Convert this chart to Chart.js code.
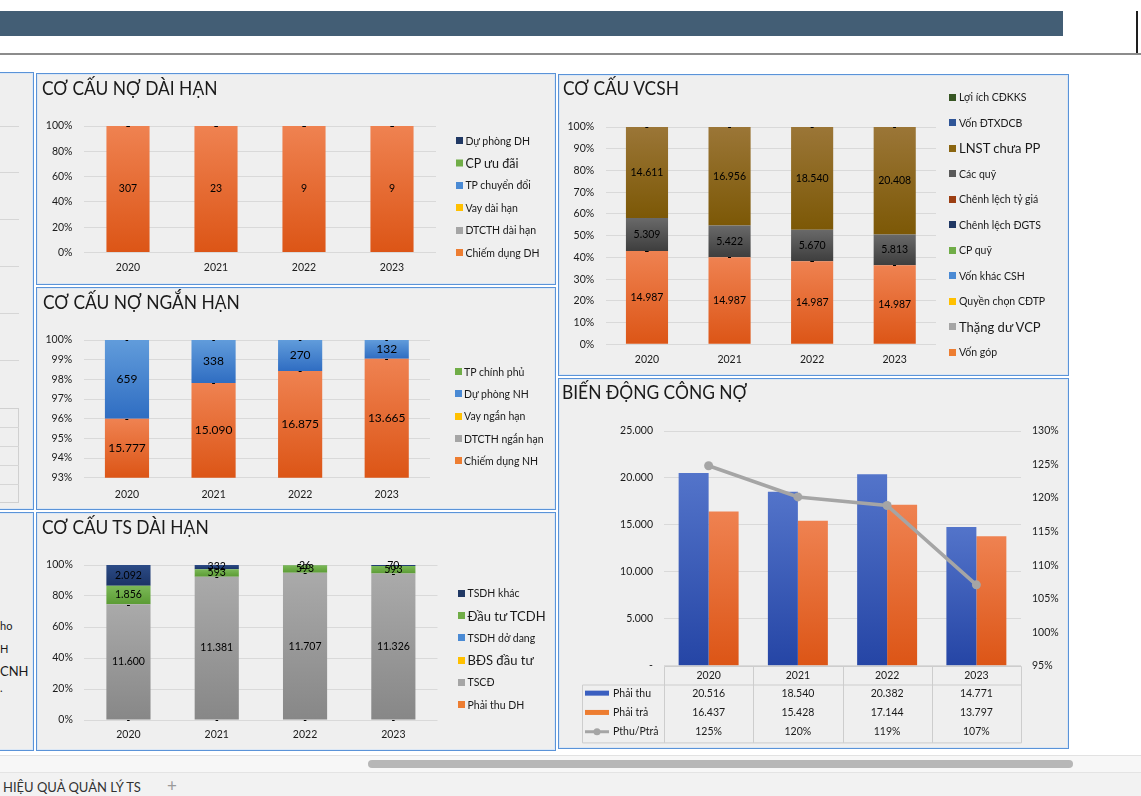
<!DOCTYPE html>
<html lang="vi">
<head>
<meta charset="utf-8">
<title>Cơ cấu nguồn vốn</title>
<script src="https://cdn.jsdelivr.net/npm/chart.js@4.4.1/dist/chart.umd.min.js"></script>
<style>
  html, body { margin: 0; padding: 0; }
  body { width: 1141px; height: 796px; position: relative; overflow: hidden; background: #fff; font-family: Lato, "Open Sans", sans-serif; color: #1a1a1a; }
  .abs { position: absolute; }
  .panel { position: absolute; box-sizing: border-box; background: #efefef; border: 1px solid #5a93d8; box-shadow: inset 0 0 0 1px #dbe7f5; }
  .title { position: absolute; font-size: 18.5px; line-height: 19px; white-space: nowrap; color: #1a1a1a; z-index: 2; transform: scaleX(0.94); transform-origin: 0 0; }
  canvas { position: absolute; z-index: 1; }
  .legend { position: absolute; z-index: 2; }
  .legend .item { position: absolute; left: 0; white-space: nowrap; display: flex; align-items: center; transform: translateY(-50%); color: #1a1a1a; }
  .legend .sw { display: inline-block; width: 7px; height: 7px; flex: none; }
  .hl { position: absolute; height: 1px; background: #d6d6d6; }
  .frag { position: absolute; left: 0; font-size: 11px; line-height: 12px; white-space: nowrap; }
</style>
</head>
<body>

<!-- sheet header -->
<div class="abs" style="left:0;top:11px;width:1063px;height:25px;background:#435e75"></div>
<div class="abs" style="left:1136px;top:11px;width:2px;height:44px;background:#1e1e1e"></div>
<div class="abs" style="left:0;top:53px;width:1141px;height:2px;background:#8c8c8c"></div>

<!-- partial panels on the left edge -->
<div class="panel" style="left:-2px;top:72px;width:36px;height:438px"></div>
<div class="panel" style="left:-2px;top:512px;width:36px;height:239px"></div>
<div class="hl" style="left:0;top:126px;width:19px"></div>
<div class="hl" style="left:0;top:172px;width:19px"></div>
<div class="hl" style="left:0;top:219px;width:19px"></div>
<div class="hl" style="left:0;top:266px;width:19px"></div>
<div class="hl" style="left:0;top:313px;width:19px"></div>
<div class="hl" style="left:0;top:360px;width:19px"></div>
<div class="abs" style="left:-1px;top:408px;width:20px;height:95px;border:1px solid #d0d0d0;box-sizing:border-box"></div>
<div class="hl" style="left:0;top:427px;width:19px"></div>
<div class="hl" style="left:0;top:446px;width:19px"></div>
<div class="hl" style="left:0;top:465px;width:19px"></div>
<div class="hl" style="left:0;top:484px;width:19px"></div>
<div class="frag" style="top:620px">ho</div>
<div class="frag" style="top:643px">H</div>
<div class="frag" style="top:664px;font-size:13px;line-height:14px">CNH</div>
<div class="frag" style="top:682px">.</div>

<!-- chart panels -->
<div class="panel" style="left:36px;top:73px;width:520px;height:212px"></div>
<div class="panel" style="left:36px;top:287px;width:520px;height:223px"></div>
<div class="panel" style="left:36px;top:512px;width:520px;height:239px"></div>
<div class="panel" style="left:558px;top:74px;width:511px;height:302px"></div>
<div class="panel" style="left:558px;top:378px;width:511px;height:371px"></div>

<div class="title" style="left:42px;top:79px">CƠ CẤU NỢ DÀI HẠN</div>
<div class="title" style="left:43px;top:293px">CƠ CẤU NỢ NGẮN HẠN</div>
<div class="title" style="left:42px;top:518px">CƠ CẤU TS DÀI HẠN</div>
<div class="title" style="left:563px;top:79px">CƠ CẤU VCSH</div>
<div class="title" style="left:562px;top:383px">BIẾN ĐỘNG CÔNG NỢ</div>

<!-- bottom: scroll bar + sheet tab -->
<div class="abs" style="left:0;top:755px;width:1141px;height:1px;background:#e2e2e2"></div>
<div class="abs" style="left:0;top:756px;width:1141px;height:16px;background:#f7f7f7"></div>
<div class="abs" style="left:368px;top:760px;width:705px;height:8px;border-radius:4px;background:#b7b7b7"></div>
<div class="abs" style="left:0;top:772px;width:1141px;height:24px;background:#f2f2f2;border-top:1px solid #e4e4e4"></div>
<div class="abs" style="left:3px;top:779px;font-size:13px;line-height:16px;color:#333;white-space:nowrap">HIỆU QUẢ QUẢN LÝ TS</div>
<div class="abs" style="left:167px;top:776px;font-size:17px;line-height:20px;color:#9a9a9a">+</div>

<script>
const years = ['2020', '2021', '2022', '2023'];

// Cơ cấu nợ dài hạn (stack order: bottom -> top)
const chiemDungDH = [307, 23, 9, 9];
const dtcthDH = [0, 0, 0, 0];
const vayDH = [0, 0, 0, 0];
const tpChuyenDoi = [0, 0, 0, 0];
const cpUuDai = [0, 0, 0, 0];
const duPhongDH = [0, 0, 0, 0];

// Cơ cấu nợ ngắn hạn
const chiemDungNH = [15777, 15090, 16875, 13665];
const dtcthNH = [0, 0, 0, 0];
const vayNH = [0, 0, 0, 0];
const duPhongNH = [659, 338, 270, 132];
const tpChinhPhu = [0, 0, 0, 0];

// Cơ cấu TS dài hạn
const phaiThuDH = [0, 0, 0, 0];
const tscd = [11600, 11381, 11707, 11326];
const bdsDauTu = [0, 0, 0, 0];
const tsdhDoDang = [0, 0, 0, 0];
const dauTuTCDH = [1856, 593, 593, 593];
const tsdhKhac = [2092, 332, 26, 70];

// Cơ cấu VCSH
const vonGop = [14987, 14987, 14987, 14987];
const thangDuVCP = [0, 0, 0, 0];
const quyenChonCDTP = [0, 0, 0, 0];
const vonKhacCSH = [0, 0, 0, 0];
const cpQuy = [0, 0, 0, 0];
const clDGTS = [0, 0, 0, 0];
const clTyGia = [0, 0, 0, 0];
const cacQuy = [5309, 5422, 5670, 5813];
const lnstChuaPP = [14611, 16956, 18540, 20408];
const vonDTXDCB = [0, 0, 0, 0];
const loiIchCDKKS = [0, 0, 0, 0];

// Biến động công nợ
const phaiThu = [20516, 18540, 20382, 14771];
const phaiTra = [16437, 15428, 17144, 13797];

// fills: solid (legend), gradient top, gradient bottom
const fills = {
  orange:    { solid: '#ed7d31', top: '#ef8251', bottom: '#dc5516' },
  gray:      { solid: '#a5a5a5', top: '#aaaaaa', bottom: '#878787' },
  yellow:    { solid: '#ffc000', top: '#ffc82a', bottom: '#f0b400' },
  lightBlue: { solid: '#4a8ad4', top: '#619cdb', bottom: '#2f6dc2' },
  green:     { solid: '#70ad47', top: '#7bb957', bottom: '#5b9b34' },
  navy:      { solid: '#203864', top: '#2c4b86', bottom: '#1b3466' },
  brown:     { solid: '#8a6510', top: '#9b7637', bottom: '#7c5806' },
  darkGray:  { solid: '#595959', top: '#696969', bottom: '#3e3e3e' },
  rust:      { solid: '#9c3e12', top: '#a4481c', bottom: '#843c0c' },
  darkGreen: { solid: '#375623', top: '#466b2e', bottom: '#375623' },
  royal:     { solid: '#2f5597', top: '#3b64ae', bottom: '#2f5597' },
  blue:      { solid: '#3a5fc0', top: '#5374ca', bottom: '#2545a5' }
};

const FONT = 'Lato, "Open Sans", sans-serif';
Chart.defaults.font.family = FONT;
Chart.defaults.font.size = 10.5;
Chart.defaults.color = '#1a1a1a';
Chart.defaults.animation = false;

const fmt = v => String(Math.round(v)).replace(/\B(?=(\d{3})+(?!\d))/g, '.');

function makeCanvas(x, y, w, h) {
  const c = document.createElement('canvas');
  c.width = w; c.height = h;
  c.style.left = x + 'px'; c.style.top = y + 'px';
  c.style.width = w + 'px'; c.style.height = h + 'px';
  document.body.appendChild(c);
  return c;
}

// vertical gradient per bar segment, taken from the y scale
function segmentFill(f, stacked) {
  return (c) => {
    const chart = c.chart, ys = chart.scales.y;
    if (c.type !== 'data' || !ys || !chart.chartArea) return f.solid;
    let lo = 0;
    if (stacked) {
      for (let k = 0; k < c.datasetIndex; k++) lo += chart.data.datasets[k].data[c.dataIndex];
    }
    const hi = lo + c.raw;
    const yTop = ys.getPixelForValue(Math.min(hi, ys.max));
    const yBot = ys.getPixelForValue(Math.max(lo, ys.min));
    if (!isFinite(yTop) || !isFinite(yBot) || yBot - yTop < 0.5) return f.solid;
    const g = chart.ctx.createLinearGradient(0, yTop, 0, yBot);
    g.addColorStop(0, f.top);
    g.addColorStop(1, f.bottom);
    return g;
  };
}

// value labels in the middle of each segment, "-" for zero
const valueLabels = {
  id: 'valueLabels',
  afterDatasetsDraw(chart, args, opts) {
    const { ctx, chartArea: a } = chart;
    ctx.save();
    ctx.textAlign = 'center';
    ctx.textBaseline = 'middle';
    ctx.fillStyle = '#000';
    chart.data.datasets.forEach((ds, di) => {
      if (!ds.values) return;
      chart.getDatasetMeta(di).data.forEach((bar, i) => {
        const v = ds.values[i];
        if (v === 0) {
          if (bar.y < a.top - 1 || bar.y > a.bottom + 1) return;
          ctx.font = 'bold 10px ' + FONT;
          ctx.fillText('-', bar.x, bar.y);
        } else {
          const t = Math.max(Math.min(bar.y, bar.base), a.top);
          const b = Math.min(Math.max(bar.y, bar.base), a.bottom);
          ctx.font = opts.size + 'px ' + FONT;
          ctx.fillText(fmt(v), bar.x, (t + b) / 2);
        }
      });
    });
    ctx.restore();
  }
};

// HTML legend built from the chart's own legend items (Excel order: top series first)
const htmlLegend = {
  id: 'htmlLegend',
  afterUpdate(chart, args, opts) {
    const box = opts.container;
    box.innerHTML = '';
    const items = chart.options.plugins.legend.labels.generateLabels(chart);
    items.forEach((it, i) => {
      const ds = chart.data.datasets[it.datasetIndex];
      const row = document.createElement('div');
      row.className = 'item';
      row.style.top = (i * opts.step) + 'px';
      row.style.fontSize = (ds.legendSize || 10.5) + 'px';
      const sw = document.createElement('span');
      sw.className = 'sw';
      sw.style.background = it.fillStyle;
      sw.style.marginRight = opts.gap + 'px';
      row.appendChild(sw);
      row.appendChild(document.createTextNode(it.text));
      box.appendChild(row);
    });
  }
};

// 100% stacked column chart
function stacked100(g, series) {
  const cLeft = g.panel[0] + 1, cRight = g.panel[1] - 1;
  const headroom = 30; // more than the room the y axis asks for above its top tick
  const cTop = g.top - headroom, cBot = Math.ceil(g.xLabelY + 12);
  const totals = years.map((_, i) => series.reduce((s, d) => s + d.values[i], 0));
  const canvas = makeCanvas(cLeft, cTop, cRight - cLeft, cBot - cTop);

  const legendBox = document.createElement('div');
  legendBox.className = 'legend';
  legendBox.style.left = g.legendX + 'px';
  legendBox.style.top = g.legendY + 'px';
  document.body.appendChild(legendBox);

  new Chart(canvas, {
    type: 'bar',
    data: {
      labels: years,
      datasets: series.map(d => ({
        label: d.name,
        values: d.values,
        solid: d.fill.solid,
        legendSize: d.legendSize,
        data: d.values.map((v, i) => v / totals[i] * 100),
        backgroundColor: segmentFill(d.fill, true),
        borderWidth: 0,
        barPercentage: g.barPct,
        categoryPercentage: 1
      }))
    },
    options: {
      responsive: false,
      layout: { padding: { top: headroom, bottom: 0, left: 0, right: cRight - g.right } },
      plugins: {
        legend: {
          display: false,
          labels: {
            generateLabels: chart => chart.data.datasets.map((d, i) => ({
              text: d.label, fillStyle: d.solid, strokeStyle: d.solid, lineWidth: 0,
              hidden: false, datasetIndex: i
            })).reverse()
          }
        },
        tooltip: { enabled: false },
        valueLabels: { size: g.labelSize },
        htmlLegend: { container: legendBox, step: g.legendStep, gap: g.legendGap }
      },
      scales: {
        x: {
          stacked: true,
          grid: { display: false, drawTicks: false },
          border: { display: false },
          ticks: { padding: g.xLabelY - g.bottom - 5.5, maxRotation: 0, font: { size: 10.5 } },
          afterFit: s => { s.height = cBot - g.bottom; }
        },
        y: {
          stacked: true,
          min: g.yMin, max: 100,
          ticks: { stepSize: g.yStep, padding: g.tickPad, callback: v => v + '%', font: { size: 10.5 } },
          grid: { color: '#d9d9d9', drawTicks: false },
          border: { display: false },
          afterFit: s => { s.width = g.left - cLeft; }
        }
      }
    },
    plugins: [valueLabels, htmlLegend]
  });
}

stacked100(
  { panel: [36, 556], left: 84, right: 436, top: 126, bottom: 252.5, xLabelY: 267.3,
    legendX: 456.4, legendY: 140.5, legendStep: 22.4, legendGap: 2, barPct: 0.49, labelSize: 10.5,
    yMin: 0, yStep: 20, tickPad: 11.5 },
  [
    { name: 'Chiếm dụng DH', values: chiemDungDH, fill: fills.orange },
    { name: 'DTCTH dài hạn', values: dtcthDH, fill: fills.gray },
    { name: 'Vay dài hạn', values: vayDH, fill: fills.yellow },
    { name: 'TP chuyển đổi', values: tpChuyenDoi, fill: fills.lightBlue },
    { name: 'CP ưu đãi', values: cpUuDai, fill: fills.green, legendSize: 12.5 },
    { name: 'Dự phòng DH', values: duPhongDH, fill: fills.navy }
  ]
);

stacked100(
  { panel: [36, 556], left: 83.7, right: 430, top: 340, bottom: 477.7, xLabelY: 493.7,
    legendX: 454.6, legendY: 371.7, legendStep: 22.3, legendGap: 2.5, barPct: 0.51, labelSize: 12,
    yMin: 93, yStep: 1, tickPad: 11.5 },
  [
    { name: 'Chiếm dụng NH', values: chiemDungNH, fill: fills.orange },
    { name: 'DTCTH ngắn hạn', values: dtcthNH, fill: fills.gray },
    { name: 'Vay ngắn hạn', values: vayNH, fill: fills.yellow },
    { name: 'Dự phòng NH', values: duPhongNH, fill: fills.lightBlue },
    { name: 'TP chính phủ', values: tpChinhPhu, fill: fills.green }
  ]
);

stacked100(
  { panel: [36, 556], left: 84.3, right: 437.5, top: 565, bottom: 720, xLabelY: 734,
    legendX: 458, legendY: 593.3, legendStep: 22.3, legendGap: 2.5, barPct: 0.5, labelSize: 10.5,
    yMin: 0, yStep: 20, tickPad: 11.5 },
  [
    { name: 'Phải thu DH', values: phaiThuDH, fill: fills.orange },
    { name: 'TSCĐ', values: tscd, fill: fills.gray },
    { name: 'BĐS đầu tư', values: bdsDauTu, fill: fills.yellow, legendSize: 13 },
    { name: 'TSDH dở dang', values: tsdhDoDang, fill: fills.lightBlue },
    { name: 'Đầu tư TCDH', values: dauTuTCDH, fill: fills.green, legendSize: 13 },
    { name: 'TSDH khác', values: tsdhKhac, fill: fills.navy }
  ]
);

stacked100(
  { panel: [558, 1069], left: 605.7, right: 936, top: 127, bottom: 344.3, xLabelY: 359,
    legendX: 949, legendY: 97, legendStep: 25.5, legendGap: 3, barPct: 0.51, labelSize: 10.5,
    yMin: 0, yStep: 10, tickPad: 11.5 },
  [
    { name: 'Vốn góp', values: vonGop, fill: fills.orange },
    { name: 'Thặng dư VCP', values: thangDuVCP, fill: fills.gray, legendSize: 13 },
    { name: 'Quyền chọn CĐTP', values: quyenChonCDTP, fill: fills.yellow },
    { name: 'Vốn khác CSH', values: vonKhacCSH, fill: fills.lightBlue },
    { name: 'CP quỹ', values: cpQuy, fill: fills.green },
    { name: 'Chênh lệch ĐGTS', values: clDGTS, fill: fills.navy },
    { name: 'Chênh lệch tỷ giá', values: clTyGia, fill: fills.rust },
    { name: 'Các quỹ', values: cacQuy, fill: fills.darkGray },
    { name: 'LNST chưa PP', values: lnstChuaPP, fill: fills.brown, legendSize: 13 },
    { name: 'Vốn ĐTXDCB', values: vonDTXDCB, fill: fills.royal },
    { name: 'Lợi ích CĐKKS', values: loiIchCDKKS, fill: fills.darkGreen }
  ]
);

// data table under the combo chart, columns follow the x scale
const dataTable = {
  id: 'dataTable',
  afterDraw(chart, args, opts) {
    const { ctx, chartArea: a, scales: { x } } = chart;
    const keyLeft = a.left - opts.keyWidth;
    const headTop = Math.round(a.bottom) + 0.5;
    const headBot = headTop + opts.headH;
    const bot = headBot + opts.rows.length * opts.rowH;
    const line = (x1, y1, x2, y2) => { ctx.beginPath(); ctx.moveTo(x1, y1); ctx.lineTo(x2, y2); ctx.stroke(); };
    const px = v => Math.round(v) + 0.5;
    ctx.save();
    ctx.strokeStyle = '#cdcdcd';
    ctx.lineWidth = 1;
    line(px(a.left), headTop, px(a.right), headTop);
    line(px(keyLeft), headBot, px(a.right), headBot);
    line(px(keyLeft), bot, px(a.right), bot);
    line(px(keyLeft), headBot, px(keyLeft), bot);
    const n = chart.data.labels.length;
    for (let i = 0; i <= n; i++) {
      const xb = i === 0 ? a.left : i === n ? a.right : (x.getPixelForValue(i - 1) + x.getPixelForValue(i)) / 2;
      line(px(xb), headTop, px(xb), bot);
    }
    ctx.fillStyle = '#1a1a1a';
    ctx.font = opts.size + 'px ' + FONT;
    ctx.textBaseline = 'middle';
    ctx.textAlign = 'center';
    chart.data.labels.forEach((l, i) => ctx.fillText(l, x.getPixelForValue(i), (headTop + headBot) / 2));
    opts.rows.forEach((r, ri) => {
      const y = headBot + opts.rowH * (ri + 0.5) - 1.5;
      const ds = chart.data.datasets[ri];
      const kx = keyLeft + 3, kw = 24;
      if (ds.type === 'line') {
        ctx.strokeStyle = ds.borderColor;
        ctx.lineWidth = 3;
        line(kx, y, kx + kw, y);
        ctx.fillStyle = ds.borderColor;
        ctx.beginPath(); ctx.arc(kx + kw / 2, y, 3.5, 0, Math.PI * 2); ctx.fill();
      } else {
        ctx.fillStyle = ds.solid;
        ctx.fillRect(kx, y - 2.5, kw, 5);
      }
      ctx.fillStyle = '#1a1a1a';
      ctx.textAlign = 'left';
      ctx.fillText(r.label, kx + kw + 4, y);
      ctx.textAlign = 'center';
      r.values.forEach((v, i) => ctx.fillText(r.format(v), x.getPixelForValue(i), y));
    });
    ctx.restore();
  }
};

const ratio = phaiThu.map((v, i) => v / phaiTra[i]);

(function () {
  const cx = 560, cy = 400, w = 507, h = 347;
  const left = 664, right = 1021, top = 431, bottom = 665.7;
  const canvas = makeCanvas(cx, cy, w, h);
  new Chart(canvas, {
    type: 'bar',
    data: {
      labels: years,
      datasets: [
        { label: 'Phải thu', data: phaiThu, solid: '#3a5fc0', backgroundColor: segmentFill(fills.blue, false),
          borderWidth: 0, yAxisID: 'y', order: 1, barPercentage: 1, categoryPercentage: 0.672 },
        { label: 'Phải trả', data: phaiTra, solid: '#ed7d31', backgroundColor: segmentFill(fills.orange, false),
          borderWidth: 0, yAxisID: 'y', order: 1, barPercentage: 1, categoryPercentage: 0.672 },
        { type: 'line', label: 'Pthu/Ptrả', data: ratio, yAxisID: 'y2', order: 0,
          borderColor: '#a5a5a5', backgroundColor: '#a5a5a5', borderWidth: 3.5,
          pointRadius: 4.5, pointBackgroundColor: '#a5a5a5', pointBorderWidth: 0, tension: 0 }
      ]
    },
    options: {
      responsive: false,
      layout: { padding: { top: top - cy, bottom: 0, left: 0, right: 0 } },
      plugins: {
        legend: { display: false },
        tooltip: { enabled: false },
        dataTable: {
          keyWidth: left - 582, headH: 18.5, rowH: 19.3, size: 10.5,
          rows: [
            { label: 'Phải thu', values: phaiThu, format: fmt },
            { label: 'Phải trả', values: phaiTra, format: fmt },
            { label: 'Pthu/Ptrả', values: ratio, format: v => Math.round(v * 100) + '%' }
          ]
        }
      },
      scales: {
        x: {
          grid: { display: false }, border: { display: false }, ticks: { display: false },
          afterFit: s => { s.height = cy + h - bottom; }
        },
        y: {
          position: 'left', min: 0, max: 25000,
          ticks: { stepSize: 5000, padding: 11, callback: v => v === 0 ? '-' : fmt(v), font: { size: 10.5 } },
          grid: { color: '#d9d9d9', drawTicks: false },
          border: { display: false },
          afterFit: s => { s.width = left - cx; }
        },
        y2: {
          position: 'right', min: 0.95, max: 1.30,
          ticks: { stepSize: 0.05, padding: 11, callback: v => Math.round(v * 100) + '%', font: { size: 10.5 } },
          grid: { display: false, drawTicks: false },
          border: { display: false },
          afterFit: s => { s.width = cx + w - right; }
        }
      }
    },
    plugins: [dataTable]
  });
})();
</script>
</body>
</html>
